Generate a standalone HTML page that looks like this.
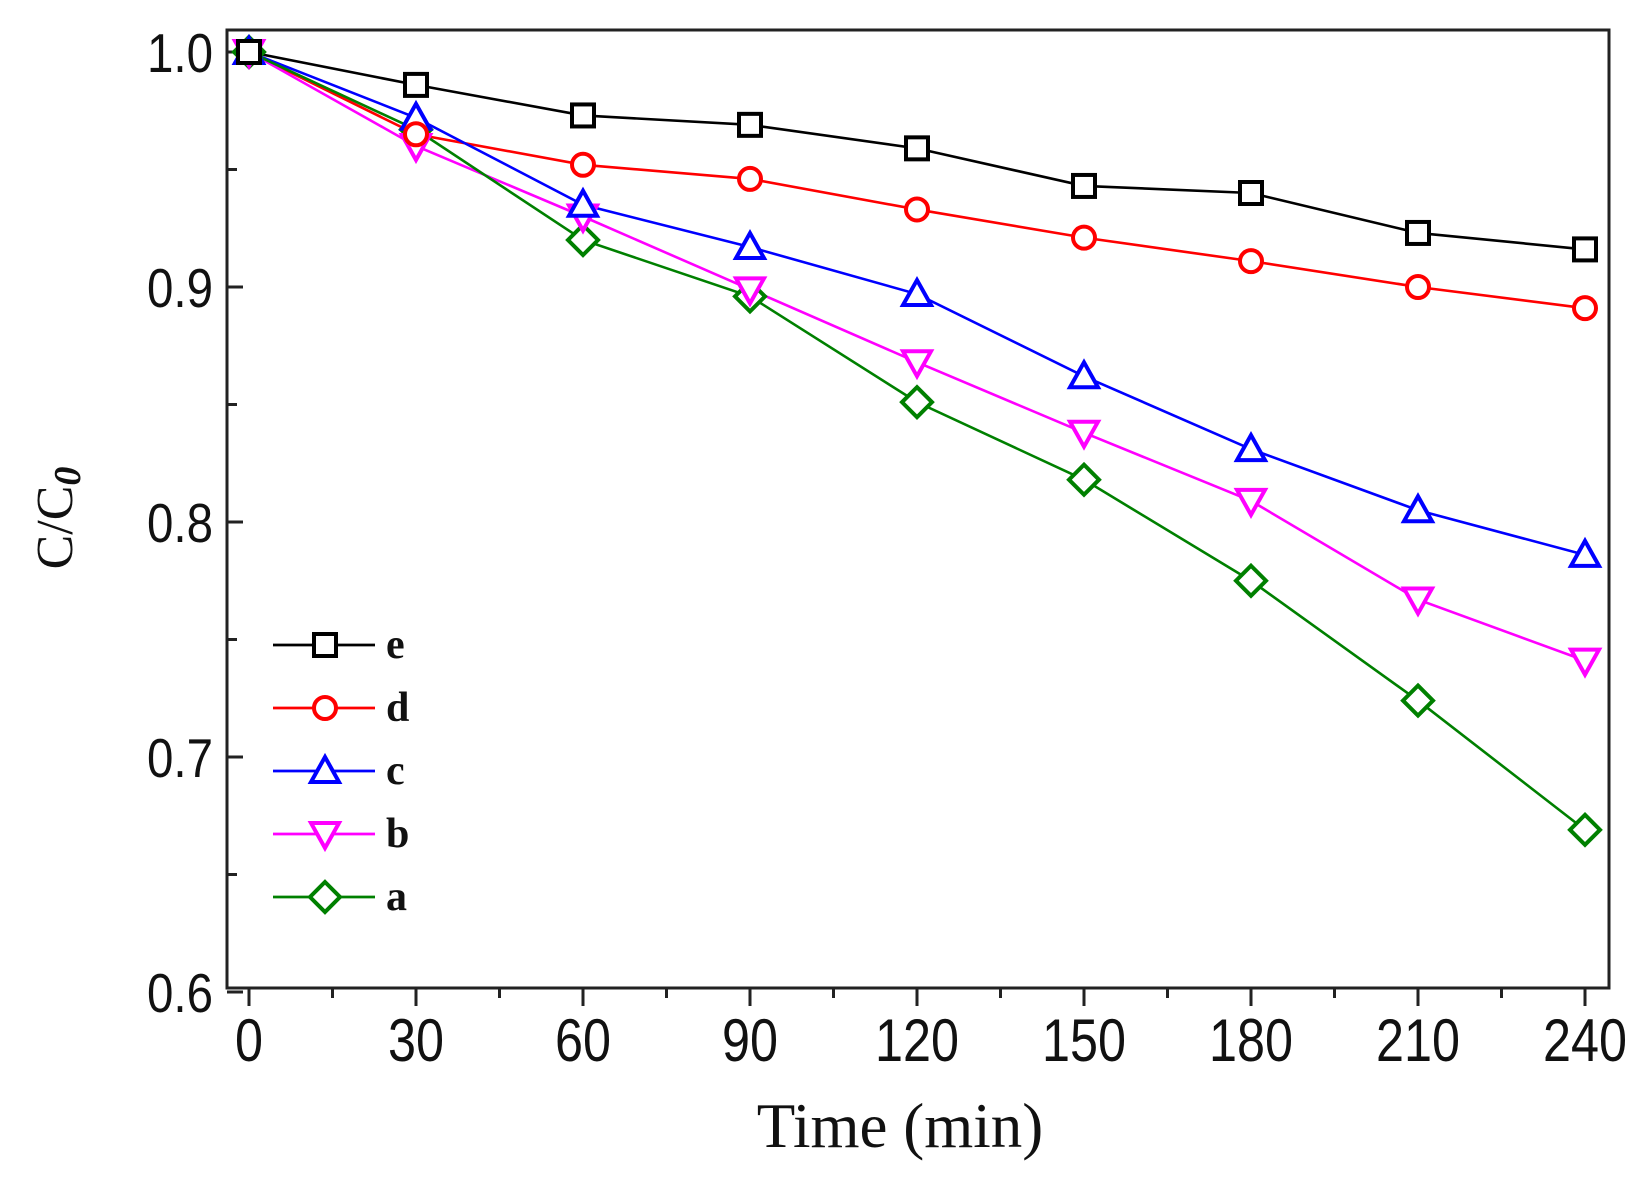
<!DOCTYPE html>
<html><head><meta charset="utf-8"><style>html,body{margin:0;padding:0;background:#fff}svg{display:block}</style></head>
<body>
<svg id="s" width="1648" height="1190" viewBox="0 0 1648 1190" xmlns="http://www.w3.org/2000/svg">
<rect width="1648" height="1190" fill="#fff"/>
<rect x="227" y="30" width="1382" height="958" fill="none" stroke="#222" stroke-width="3"/>
<g id="ticks" stroke="#222" stroke-width="3"></g>
<g id="labels" font-family="Liberation Sans, Arial, sans-serif" fill="#111"></g>
<text x="900" y="1147" text-anchor="middle" font-family="Liberation Serif, serif" font-size="63" fill="#111">Time (min)</text>
<text transform="translate(72,518) rotate(-90)" text-anchor="middle" font-family="Liberation Serif, serif" font-size="52" fill="#111">C/C<tspan font-weight="bold" font-style="italic" font-size="38" dy="8">0</tspan></text>
<g id="data"></g>
<g id="legend" font-family="Liberation Serif, serif" font-weight="bold" font-size="42" fill="#111"></g>
</svg>
<script>
const NS="http://www.w3.org/2000/svg";
function el(t,a,p,txt){const e=document.createElementNS(NS,t);for(const k in a)e.setAttribute(k,a[k]);if(txt!==undefined)e.textContent=txt;p.appendChild(e);return e;}
const X=t=>249+t*(1336/240), Y=v=>52+(1-v)*2350;
const tk=document.getElementById('ticks'), lb=document.getElementById('labels');
for(let t=0;t<=240;t+=15){const major=t%30==0;el('line',{x1:X(t),x2:X(t),y1:988,y2:988+(major?18:10)},tk);
 if(major){const s=String(t);el('text',{x:X(t),y:1061,'text-anchor':'middle','font-size':60,textLength:s.length*28,lengthAdjust:'spacingAndGlyphs'},lb,s);}}
for(let i=0;i<=8;i++){const v=0.6+i*0.05;const y=Y(v);const major=i%2==0;el('line',{x1:227,x2:227+(major?16:10),y1:y,y2:y},tk);
 if(major){el('text',{x:213,y:y+20,'text-anchor':'end','font-size':55,textLength:66,lengthAdjust:'spacingAndGlyphs'},lb,v.toFixed(1));}}
const ser=[
 ['e','#000','sq',[1,.986,.973,.969,.959,.943,.940,.923,.916]],
 ['d','#ff0000','ci',[1,.965,.952,.946,.933,.921,.911,.900,.891]],
 ['c','#0000ff','up',[1,.972,.935,.917,.897,.862,.831,.805,.786]],
 ['b','#ff00ff','dn',[1,.960,.930,.899,.868,.838,.809,.767,.741]],
 ['a','#008000','di',[1,.967,.920,.896,.851,.818,.775,.724,.669]]];
const dg=document.getElementById('data'), lg=document.getElementById('legend');
function mk(type,x,y,c,p){const a={fill:'#fff',stroke:c,'stroke-width':4};
 if(type=='sq')el('rect',Object.assign({x:x-11,y:y-11,width:22,height:22},a),p);
 else if(type=='ci')el('circle',Object.assign({cx:x,cy:y,r:11},a),p);
 else if(type=='up')el('polygon',Object.assign({points:`${x},${y-14} ${x-14},${y+11} ${x+14},${y+11}`},a),p);
 else if(type=='dn')el('polygon',Object.assign({points:`${x},${y+14} ${x-14},${y-11} ${x+14},${y-11}`},a),p);
 else el('polygon',Object.assign({points:`${x},${y-15} ${x+15},${y} ${x},${y+15} ${x-15},${y}`},a),p);}
ser.forEach((s,i)=>{const pts=s[3].map((v,j)=>X(j*30)+','+Y(v)).join(' ');
 el('polyline',{points:pts,fill:'none',stroke:s[1],'stroke-width':2.6},dg);});
ser.slice().reverse().forEach(s=>{s[3].forEach((v,j)=>mk(s[2],X(j*30),Y(v),s[1],dg));});
ser.forEach((s,i)=>{const y=645+i*63;el('line',{x1:273,x2:375,y1:y,y2:y,stroke:s[1],'stroke-width':2.8},lg);mk(s[2],325,y,s[1],lg);
 el('text',{x:386,y:y+13},lg,s[0]);});
</script>
</body></html>
